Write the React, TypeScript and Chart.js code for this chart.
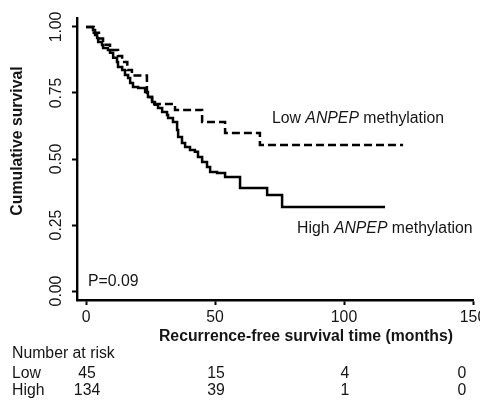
import React, { useEffect, useRef } from "react";
import { Chart, registerables } from "chart.js";

Chart.register(...registerables);

const FONT = '"Liberation Sans", Arial, Helvetica, sans-serif';
const FS = 15.8;

// Kaplan-Meier step points: time of drop (months) and survival after it
const lowTimes = [0, 3.0, 5.0, 6.6, 9.3, 12.4, 14.0, 16.0, 17.8, 23.6, 25.6, 34.5, 45.0, 53.9, 67.4, 122.9];
const lowSurv = [1.0, 0.978, 0.956, 0.933, 0.913, 0.89, 0.867, 0.837, 0.816, 0.735, 0.708, 0.686, 0.64, 0.598, 0.553, 0.553];

const highTimes = [0, 2.7, 3.5, 4.3, 4.7, 6.2, 6.6, 8.5, 9.3, 10.5, 12.0, 12.4, 14.0, 15.1, 16.3, 17.1, 18.2, 20.2, 22.9, 24.0, 25.6, 26.7, 27.9, 29.5, 31.4, 31.8, 33.7, 35.3, 35.7, 37.2, 38.4, 40.3, 42.2, 43.4, 45.0, 46.9, 48.1, 50.8, 53.9, 59.7, 70.2, 76.0, 115.9];
const highSurv = [1.0, 0.989, 0.97, 0.958, 0.943, 0.932, 0.92, 0.913, 0.902, 0.883, 0.867, 0.848, 0.837, 0.818, 0.807, 0.788, 0.773, 0.769, 0.754, 0.735, 0.716, 0.705, 0.693, 0.678, 0.667, 0.655, 0.64, 0.61, 0.583, 0.561, 0.545, 0.534, 0.527, 0.508, 0.489, 0.47, 0.451, 0.447, 0.432, 0.39, 0.364, 0.318, 0.318];

const xTicks = [0, 50, 100, 150];
const yTicks = [0, 0.25, 0.5, 0.75, 1];
const yTickLabels = ["0.00", "0.25", "0.50", "0.75", "1.00"];

const riskLabels = ["Low", "High"];
const riskLow = [45, 15, 4, 0];
const riskHigh = [134, 39, 1, 0];
const riskTitle = "Number at risk";

const yTitle = "Cumulative survival";
const xTitle = "Recurrence-free survival time (months)";
const pText = "P=0.09";

function drawMixed(ctx: CanvasRenderingContext2D, parts: [string, boolean][], x: number, y: number, size: number) {
  let cx = x;
  for (const [t, it] of parts) {
    ctx.font = `${it ? "italic " : ""}${size}px ${FONT}`;
    ctx.fillText(t, cx, y);
    cx += ctx.measureText(t).width;
  }
}

const textPlugin = {
  id: "kmText",
  afterDraw(chart: any) {
    const ctx: CanvasRenderingContext2D = chart.ctx;
    const xs = chart.scales.x;
    ctx.save();
    ctx.fillStyle = "#151515";
    ctx.textBaseline = "middle";

    // y title
    ctx.save();
    ctx.font = `bold ${FS}px ${FONT}`;
    ctx.translate(18, 141);
    ctx.rotate(-Math.PI / 2);
    ctx.textAlign = "center";
    ctx.fillText(yTitle, 0, 0);
    ctx.restore();

    // x title
    ctx.font = `bold ${FS}px ${FONT}`;
    ctx.textAlign = "center";
    ctx.fillText(xTitle, 306, 337);

    // p value
    ctx.textAlign = "left";
    ctx.font = `${FS}px ${FONT}`;
    ctx.fillText(pText, 88, 282);

    // curve annotations
    drawMixed(ctx, [["Low ", false], ["ANPEP", true], [" methylation", false]], 272, 119, FS);
    drawMixed(ctx, [["High ", false], ["ANPEP", true], [" methylation", false]], 297, 229, FS);

    // number at risk
    ctx.font = `${FS}px ${FONT}`;
    ctx.textAlign = "left";
    ctx.fillText(riskTitle, 12, 354);
    ctx.fillText(riskLabels[0], 12, 374);
    ctx.fillText(riskLabels[1], 12, 391);
    ctx.textAlign = "center";
    xTicks.forEach((t, i) => {
      const px = Math.min(xs.getPixelForValue(t), 461);
      ctx.fillText(String(riskLow[i]), px + 1, 374);
      ctx.fillText(String(riskHigh[i]), px + 1, 391);
    });
    ctx.restore();
  },
};

export default function App() {
  const ref = useRef<HTMLCanvasElement>(null);
  useEffect(() => {
    if (!ref.current) return;
    const chart = new Chart(ref.current, {
      type: "line",
      data: {
        datasets: [
          {
            label: "Low",
            data: lowTimes.map((t, i) => ({ x: t, y: lowSurv[i] })),
            borderColor: "#000",
            borderWidth: 2.5,
            borderDash: [8, 4],
            stepped: "before",
            pointRadius: 0,
            fill: false,
          },
          {
            label: "High",
            data: highTimes.map((t, i) => ({ x: t, y: highSurv[i] })),
            borderColor: "#000",
            borderWidth: 2.5,
            stepped: "before",
            pointRadius: 0,
            fill: false,
          },
        ],
      },
      options: {
        animation: false,
        responsive: false,
        devicePixelRatio: 1,
        layout: { padding: { left: 0, right: 7, top: 18, bottom: 0 } },
        plugins: { legend: { display: false }, tooltip: { enabled: false } },
        scales: {
          x: {
            type: "linear",
            min: -3.5,
            max: 150,
            afterBuildTicks: (s: any) => {
              s.ticks = xTicks.map((v) => ({ value: v }));
            },
            afterFit: (s: any) => {
              s.height = 100;
              s.paddingLeft = 0;
              s.paddingRight = 0;
            },
            ticks: {
              font: { size: FS, family: FONT },
              color: "#151515",
              padding: 3,
              maxRotation: 0,
              autoSkip: false,
              callback: (v: any) => String(v),
            },
            grid: { drawOnChartArea: false, drawTicks: true, tickLength: 5, tickWidth: 2, color: "#000" },
            border: { display: true, color: "#000", width: 2.4 },
          },
          y: {
            type: "linear",
            min: -0.034,
            max: 1.034,
            afterBuildTicks: (s: any) => {
              s.ticks = yTicks.map((v) => ({ value: v }));
            },
            afterFit: (s: any) => {
              s.width = 77;
              s.paddingTop = 0;
              s.paddingBottom = 0;
            },
            ticks: {
              font: { size: FS, family: FONT },
              color: "#151515",
              padding: 0,
              minRotation: 90,
              maxRotation: 90,
              crossAlign: "center",
              autoSkip: false,
              callback: (_v: any, i: number) => yTickLabels[i],
            },
            grid: { drawOnChartArea: false, drawTicks: true, tickLength: 5, tickWidth: 2, color: "#000" },
            border: { display: true, color: "#000", width: 2.4 },
          },
        },
      },
      plugins: [textPlugin],
    } as any);
    return () => chart.destroy();
  }, []);
  return (
    <div style={{ position: "absolute", left: 0, top: 0, width: 480, height: 400, background: "#fff" }}>
      <canvas ref={ref} width={480} height={400} style={{ width: 480, height: 400, display: "block" }} />
    </div>
  );
}
